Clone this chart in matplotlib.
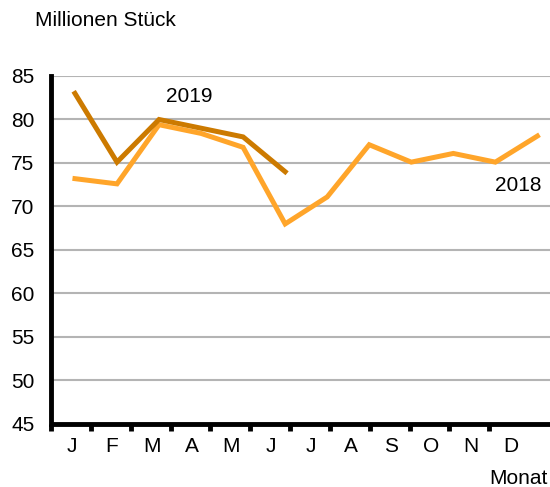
import matplotlib.pyplot as plt
import numpy as np

plt.rcParams['font.family'] = ['Liberation Sans', 'DejaVu Sans']

months = ['J', 'F', 'M', 'A', 'M', 'J', 'J', 'A', 'S', 'O', 'N', 'D']
v2018 = [73.2, 72.6, 79.4, 78.4, 76.8, 68.0, 71.1, 77.1, 75.1, 76.1, 75.1, 78.1]
v2019 = [83.0, 75.1, 80.0, 79.0, 78.0, 74.0]

c2018 = '#FFA52A'
c2019 = '#CC7A00'

fig = plt.figure(figsize=(5.5, 4.87), dpi=100)
ax = fig.add_axes([51 / 550, 1 - 424 / 487, 1 - 51 / 550, (424 - 76) / 487])

x18 = np.arange(len(v2018))
x19 = np.arange(len(v2019))
ax.plot(x18, v2018, color=c2018, lw=3.6, solid_joinstyle='miter', zorder=3)
ax.plot(x19, v2019, color=c2019, lw=3.6, solid_joinstyle='miter', zorder=4)

ax.set_ylim(45, 85)
ax.set_xlim(-0.52, 11.30)
ax.set_yticks(range(45, 90, 5))
ax.yaxis.grid(True, color='#b4b4b4', lw=1.5)
ax.set_axisbelow(True)

# category ticks sit a little tighter than the line points in the original
scale = 40 / 42.2
ax.set_xticks([-0.57 + scale * i for i in range(12)])
ax.set_xticklabels([])
ax.set_xticks([-0.07 + scale * i for i in range(12)], minor=True)
ax.set_xticklabels(months, minor=True)
ax.tick_params(axis='x', which='major', direction='out', length=5, width=3.5, color='black')
ax.tick_params(axis='x', which='minor', length=0, pad=9, labelsize=15)
ax.tick_params(axis='y', length=0, pad=12, labelsize=15)

for s in ['top', 'right']:
    ax.spines[s].set_visible(False)
ax.spines['left'].set_linewidth(3.5)
ax.spines['bottom'].set_linewidth(3.5)
ax.spines['bottom'].set_capstyle('butt')

fig.text(35 / 550, 1 - 21 / 487, 'Millionen Stück', fontsize=15, va='center', ha='left')
fig.text(548 / 550, 1 - 478 / 487, 'Monat', fontsize=15, va='center', ha='right')
ax.text(2.73, 82.6, '2019', fontsize=15, ha='center', va='center')
ax.text(10.55, 72.4, '2018', fontsize=15, ha='center', va='center')

fig.savefig('out.png', dpi=100)
